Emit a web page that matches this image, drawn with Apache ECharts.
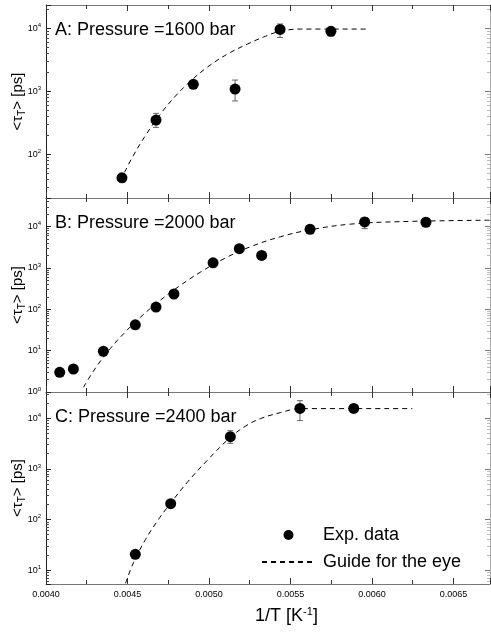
<!DOCTYPE html>
<html>
<head>
<meta charset="utf-8">
<script src="https://cdn.jsdelivr.net/npm/echarts@6/dist/echarts.min.js"></script>
<style>
  html, body { margin: 0; padding: 0; background: #fff; }
  #chart { width: 491px; height: 632px; }
</style>
</head>
<body>
<div id="chart"></div>
<script>
// panel titles
const titles = ['A: Pressure =1600 bar', 'B: Pressure =2000 bar', 'C: Pressure =2400 bar'];
const legendNames = ['Exp. data', 'Guide for the eye'];

// axis ranges
const xMin = 0.004, xMax = 0.006724, xStep = 0.0005;
const yMin = [20.3, 1, 5.3];
const yMax = [23200, 49000, 33100];

// A: 1600 bar
const aX = [0.004466, 0.004675, 0.004904, 0.00516, 0.005436, 0.005748];
const aTau = [42.4, 348, 1282, 1080, 9530, 8870];
const aErrX = [0.004675, 0.00516, 0.005436, 0.005748];
const aErrLo = [267, 700, 7100, 7500];
const aErrHi = [445, 1500, 11600, 10300];
const aGuideX = [0.004482, 0.004537, 0.00461, 0.004702, 0.004794, 0.004887, 0.004991, 0.005113, 0.005236, 0.005334, 0.005432, 0.005561, 0.005978];
const aGuideTau = [52, 97, 198, 434, 836, 1445, 2410, 3870, 5580, 7200, 8810, 9640, 9640];

// B: 2000 bar
const bX = [0.004084, 0.004168, 0.004352, 0.004548, 0.004675, 0.004785, 0.005025, 0.005186, 0.005323, 0.00562, 0.005955, 0.006331];
const bTau = [3.0, 3.6, 9.6, 42, 113, 234, 1330, 2915, 2000, 8600, 12900, 12700];
const bErrX = [0.005955];
const bErrLo = [8900];
const bErrHi = [16500];
const bGuideX = [0.00423, 0.004304, 0.004396, 0.004488, 0.00458, 0.00469, 0.004813, 0.004948, 0.005101, 0.005255, 0.005439, 0.005623, 0.005868, 0.006175, 0.006724];
const bGuideTau = [1.3, 3.81, 11.4, 28.7, 64.6, 152, 352, 794, 1740, 3260, 5680, 8360, 11430, 13150, 14230];

// C: 2400 bar
const cX = [0.004548, 0.004765, 0.005131, 0.005558, 0.005888];
const cTau = [20.5, 205, 4330, 15700, 15700];
const cErrX = [0.005131, 0.005558];
const cErrLo = [3200, 9000];
const cErrHi = [5690, 22300];
const cGuideX = [0.004488, 0.004537, 0.00461, 0.00469, 0.004764, 0.004868, 0.004991, 0.005126, 0.005224, 0.005316, 0.005439, 0.005561, 0.006247];
const cGuideTau = [5.48, 14.1, 39.9, 100, 209, 548, 1493, 4060, 7010, 9860, 12970, 15550, 15550];

const pts = [[aX, aTau], [bX, bTau], [cX, cTau]];
const errs = [[aErrX, aErrLo, aErrHi], [bErrX, bErrLo, bErrHi], [cErrX, cErrLo, cErrHi]];
const guides = [[aGuideX, aGuideTau], [bGuideX, bGuideTau], [cGuideX, cGuideTau]];

const FONT = 'Liberation Sans';
const gridTop = [5, 198, 392];
const gridHeight = [193, 194, 192];

function zip(xs, ys) { return xs.map((x, i) => [x, ys[i]]); }

function powLabel(v) {
  const e = Math.log10(v), n = Math.round(e);
  if (Math.abs(e - n) > 0.01) return '';
  return '{b|10}{s|' + n + '}';
}

function errorBar(params, api) {
  const x = api.value(0);
  const lo = api.coord([x, api.value(1)]);
  const hi = api.coord([x, api.value(2)]);
  const st = { stroke: '#666', lineWidth: 1 };
  return {
    type: 'group',
    children: [
      { type: 'line', shape: { x1: lo[0], y1: lo[1], x2: hi[0], y2: hi[1] }, style: st },
      { type: 'line', shape: { x1: lo[0] - 3, y1: lo[1], x2: lo[0] + 3, y2: lo[1] }, style: st },
      { type: 'line', shape: { x1: hi[0] - 3, y1: hi[1], x2: hi[0] + 3, y2: hi[1] }, style: st }
    ]
  };
}

const grid = [], xAxis = [], yAxis = [], series = [], title = [];
for (let i = 0; i < 3; i++) {
  grid.push({ left: 46, right: 1, top: gridTop[i], height: gridHeight[i], containLabel: false, outerBoundsMode: 'none' });
  title.push({
    text: titles[i], left: 55, top: gridTop[i] + 16, padding: 0,
    textStyle: { fontSize: 18, fontWeight: 'normal', fontFamily: FONT, color: '#000' }
  });
  const last = i === 2;
  // bottom and top x axes
  ['bottom', 'top'].forEach(pos => {
    const main = pos === 'bottom';
    xAxis.push({
      type: 'value', gridIndex: i, position: pos,
      min: xMin, max: xMax, interval: xStep,
      axisLine: { show: true, onZero: false, lineStyle: { color: '#777', width: 1 } },
      axisTick: { show: true, inside: true, length: 6, lineStyle: { color: '#333' } },
      minorTick: { show: true, splitNumber: 2, length: 4, lineStyle: { color: '#333' } },
      splitLine: { show: false },
      axisLabel: {
        show: main && last, showMaxLabel: false, margin: 6,
        fontSize: 9, fontFamily: FONT, color: '#000',
        formatter: v => v.toFixed(4)
      },
      name: main && last ? '1/T [K{sup|-1}]' : '',
      nameLocation: 'middle', nameGap: 22, nameMoveOverlap: false,
      nameTextStyle: {
        fontSize: 18, fontFamily: FONT, color: '#000', lineHeight: 20,
        padding: [0, 0, 0, 37],
        rich: { sup: { fontSize: 11, lineHeight: 11, verticalAlign: 'top', fontFamily: FONT, color: '#000' } }
      }
    });
  });
  // left and right y axes
  ['left', 'right'].forEach(pos => {
    const main = pos === 'left';
    yAxis.push({
      type: 'log', logBase: 10, gridIndex: i, position: pos,
      min: yMin[i], max: yMax[i],
      axisLine: { show: true, lineStyle: { color: main ? '#222' : '#aaa', width: 1 } },
      axisTick: { show: true, inside: true, length: 5, lineStyle: { color: main ? '#222' : '#777' } },
      minorTick: { show: true, splitNumber: 9, length: 3, lineStyle: { color: main ? '#444' : '#bbb' } },
      splitLine: { show: false },
      axisLabel: {
        show: main, margin: 5, formatter: powLabel,
        rich: {
          b: { fontSize: 9, lineHeight: 12, fontFamily: FONT, color: '#000' },
          s: { fontSize: 6, lineHeight: 7, verticalAlign: 'top', fontFamily: FONT, color: '#000' }
        }
      },
      name: main ? '<τ{sub|T}> [ps]' : '',
      nameLocation: 'middle', nameGap: 19, nameMoveOverlap: false,
      nameTextStyle: {
        fontSize: 15, lineHeight: 18, fontFamily: FONT, color: '#000',
        rich: { sub: { fontSize: 10, lineHeight: 10, verticalAlign: 'bottom', fontFamily: FONT, color: '#000' } }
      }
    });
  });

  series.push({
    type: 'custom', name: 'err', xAxisIndex: 2 * i, yAxisIndex: 2 * i,
    renderItem: errorBar, z: 2,
    dimensions: ['x', 'lo', 'hi'], encode: { x: 0, y: [1, 2] },
    data: errs[i][0].map((x, k) => [x, errs[i][1][k], errs[i][2][k]])
  });
  series.push({
    type: 'line', name: legendNames[1], xAxisIndex: 2 * i, yAxisIndex: 2 * i,
    symbol: 'none', smooth: 0.4, z: 3,
    itemStyle: { color: '#000' },
    lineStyle: { color: '#000', width: 1, type: [5, 4] },
    data: zip(guides[i][0], guides[i][1])
  });
  series.push({
    type: 'scatter', name: legendNames[0], xAxisIndex: 2 * i, yAxisIndex: 2 * i,
    symbol: 'circle', symbolSize: 11, z: 4,
    itemStyle: { color: '#000', opacity: 1 },
    data: zip(pts[i][0], pts[i][1])
  });
}

const chart = echarts.init(document.getElementById('chart'));
chart.setOption({
  animation: false,
  textStyle: { fontFamily: FONT },
  title: title,
  grid: grid,
  xAxis: xAxis,
  yAxis: yAxis,
  legend: {
    data: [
      { name: legendNames[0], icon: 'circle', itemStyle: { color: '#000', opacity: 1 } },
      { name: legendNames[1], itemStyle: { color: 'rgba(0,0,0,0)', borderWidth: 0 } }
    ],
    orient: 'vertical', left: 261, top: 526, padding: 0,
    itemWidth: 53, itemHeight: 10, itemGap: 9, selectedMode: false,
    textStyle: { fontSize: 18, fontFamily: FONT, color: '#000', padding: [0, 0, 0, 3] }
  },
  series: series
});
</script>
</body>
</html>
